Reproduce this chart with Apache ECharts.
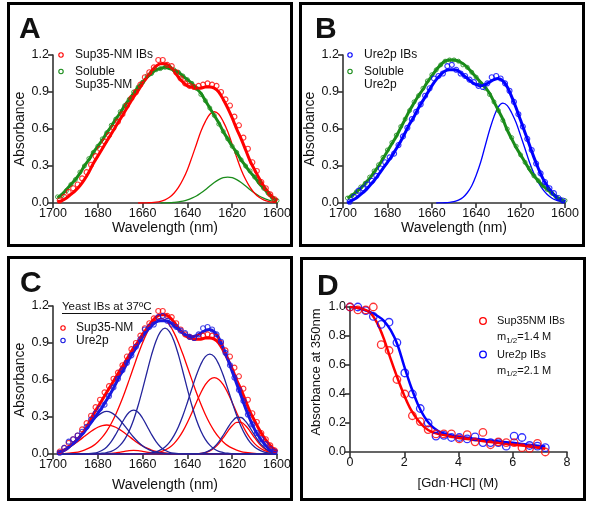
<!DOCTYPE html>
<html><head><meta charset="utf-8">
<script src="https://cdn.jsdelivr.net/npm/echarts@6/dist/echarts.min.js"></script>
<style>html,body{margin:0;padding:0;background:#fff}#c{width:600px;height:505px}</style>
</head><body><div id="c"></div>
<script>
// ---------- DATA ----------
const WL = [1698,1696,1694,1692,1690,1688,1686,1684,1682,1680,
            1678,1676,1674,1672,1670,1668,1666,1664,1662,1660,
            1658,1656,1654,1652,1650,1648,1646,1644,1642,1640,
            1638,1636,1634,1632,1630,1628,1626,1624,1622,1620,
            1618,1616,1614,1612,1610,1608,1606,1604,1602,1600];
const WL_ODD = [1697,1695,1693,1691,1689,1687,1685,1683,1681,1679,
                1677,1675,1673,1671,1669,1667,1665,1663,1661,1659,
                1657,1655,1653,1651,1649,1647,1645,1643,1641,1639,
                1637,1635,1633,1631,1629,1627,1625,1623,1621,1619,
                1617,1615,1613,1611,1609,1607,1605,1603,1601];

// Panel A: Sup35-NM
const aRedFit = [0.01,0.02,0.04,0.07,0.10,0.14,0.19,0.25,0.32,0.38,
 0.44,0.50,0.56,0.62,0.68,0.74,0.80,0.86,0.91,0.97,
 1.02,1.07,1.11,1.13,1.13,1.11,1.07,1.02,0.98,0.95,
 0.94,0.93,0.93,0.94,0.94,0.93,0.90,0.84,0.77,0.69,
 0.60,0.52,0.43,0.34,0.27,0.20,0.14,0.09,0.05,0.02];
const aGreenFit = [0.04,0.07,0.11,0.15,0.19,0.24,0.30,0.35,0.41,0.46,
 0.51,0.57,0.62,0.68,0.73,0.79,0.84,0.89,0.94,0.98,
 1.02,1.05,1.08,1.09,1.10,1.09,1.08,1.06,1.03,1.00,
 0.97,0.93,0.89,0.83,0.77,0.71,0.65,0.58,0.52,0.46,
 0.41,0.35,0.30,0.25,0.21,0.16,0.12,0.08,0.04,0.02];
const aRedComp = [null,null,null,null,null,null,null,null,null,null,
 null,null,null,null,null,null,null,null,0.000,0.000,
 0.0015,0.003,0.007,0.014,0.026,0.046,0.079,0.126,0.19,0.27,
 0.37,0.475,0.58,0.66,0.72,0.74,0.72,0.66,0.58,0.475,
 0.37,0.27,0.19,0.126,0.079,0.046,0.026,0.014,0.007,0.003];
const aGreenComp = [null,null,null,null,null,null,null,null,null,null,
 null,null,null,null,null,null,null,null,null,null,
 null,null,null,0.000,0.001,0.002,0.005,0.009,0.015,0.025,
 0.039,0.057,0.081,0.108,0.138,0.166,0.189,0.205,0.21,0.205,
 0.189,0.166,0.138,0.108,0.081,0.057,0.039,0.025,0.015,0.009];
const aRedPts = [0.02,0.05,0.09,0.12,0.15,0.20,0.25,0.31,0.38,0.44,
 0.50,0.55,0.61,0.66,0.72,0.79,0.85,0.90,0.96,1.02,
 1.06,1.10,1.16,1.16,1.12,1.11,1.06,1.01,0.97,0.95,
 0.94,0.95,0.96,0.97,0.96,0.95,0.90,0.84,0.79,0.70,
 0.63,0.53,0.44,0.33,0.26,0.17,0.12,0.07,0.03];
const aGreenPts = [0.05,0.06,0.10,0.15,0.19,0.25,0.30,0.36,0.41,0.46,
 0.52,0.57,0.63,0.68,0.74,0.79,0.84,0.90,0.94,0.98,
 1.03,1.05,1.08,1.09,1.10,1.10,1.08,1.06,1.03,1.00,
 0.97,0.93,0.88,0.83,0.77,0.71,0.64,0.58,0.52,0.46,
 0.41,0.35,0.30,0.26,0.21,0.17,0.12,0.08,0.04,0.02];

// Panel B: Ure2p
const bBlueFit = [0.00,0.02,0.04,0.07,0.10,0.14,0.18,0.23,0.28,0.33,
 0.38,0.44,0.50,0.57,0.64,0.70,0.77,0.83,0.89,0.95,
 1.00,1.04,1.07,1.08,1.08,1.07,1.04,1.01,0.98,0.96,
 0.95,0.96,0.98,1.00,1.01,0.99,0.94,0.86,0.77,0.67,
 0.57,0.47,0.37,0.28,0.20,0.14,0.09,0.05,0.02,0.01];
const bGreenFit = [0.04,0.06,0.09,0.12,0.16,0.20,0.25,0.30,0.36,0.42,
 0.48,0.54,0.61,0.68,0.75,0.81,0.87,0.92,0.98,1.03,
 1.08,1.12,1.15,1.16,1.16,1.15,1.13,1.10,1.06,1.02,
 0.98,0.94,0.89,0.82,0.75,0.68,0.59,0.52,0.45,0.39,
 0.33,0.27,0.22,0.18,0.14,0.11,0.08,0.05,0.03,0.01];
const bBlueComp = [null,null,null,null,null,null,null,null,null,null,
 null,null,null,null,null,null,null,null,null,null,
 0.000,0.001,0.002,0.005,0.011,0.023,0.045,0.083,0.14,0.225,
 0.33,0.46,0.59,0.70,0.78,0.81,0.79,0.73,0.65,0.546,
 0.44,0.33,0.24,0.167,0.11,0.069,0.041,0.023,0.0125,0.006];
const bBluePts = [0.01,0.05,0.10,0.12,0.15,0.18,0.22,0.28,0.33,0.37,
 0.40,0.47,0.54,0.61,0.68,0.74,0.80,0.87,0.93,1.01,
 1.03,1.05,1.11,1.12,1.08,1.05,1.03,1.00,0.98,0.95,
 0.94,0.97,1.02,1.03,1.01,0.97,0.91,0.82,0.72,0.62,
 0.52,0.43,0.32,0.24,0.17,0.12,0.08,0.04,0.02];
const bGreenPts = [0.04,0.06,0.09,0.13,0.16,0.21,0.26,0.31,0.37,0.43,
 0.49,0.55,0.62,0.68,0.75,0.82,0.87,0.93,0.99,1.04,
 1.08,1.12,1.15,1.16,1.16,1.15,1.12,1.10,1.06,1.02,
 0.97,0.93,0.88,0.82,0.75,0.67,0.60,0.53,0.46,0.39,
 0.33,0.28,0.22,0.18,0.14,0.11,0.08,0.05,0.03,0.02];

// Panel C: deconvolution components
const cRedLow = [0.021,0.032,0.047,0.065,0.088,0.114,0.143,0.171,0.196,0.217,
 0.230,0.235,0.230,0.217,0.196,0.171,0.143,0.114,0.088,0.065,
 0.047,0.032,0.021,0.013,0.008,0.005,0.003,0.001,0,0,
 0,0,0,0,0,0,0,0,0,0,
 0,0,0,0,0,0,0,0,0,0];
const cRedTiny = [0,0,0,0,0,0,0,0,0,0,
 0.001,0.002,0.004,0.008,0.015,0.022,0.028,0.03,0.028,0.022,
 0.015,0.008,0.004,0.002,0.001,0,0,0,0,0,
 0,0,0,0,0,0,0,0,0,0,
 0,0,0,0,0,0,0,0,0,0];
const cRedBig = [0.002,0.003,0.005,0.008,0.013,0.020,0.031,0.047,0.068,0.098,
 0.137,0.186,0.247,0.320,0.405,0.499,0.601,0.705,0.808,0.903,
 0.984,1.047,1.087,1.10,1.087,1.047,0.984,0.903,0.808,0.705,
 0.601,0.499,0.405,0.320,0.247,0.186,0.137,0.098,0.068,0.047,
 0.031,0.020,0.013,0.008,0.005,0.003,0.002,0.001,0.0005,0];
const cRed1628 = [0,0,0,0,0,0,0,0,0,0,
 0,0,0,0,0,0,0,0,0,0.001,
 0.002,0.005,0.010,0.018,0.031,0.052,0.084,0.128,0.185,0.255,
 0.334,0.418,0.497,0.562,0.605,0.62,0.605,0.562,0.497,0.418,
 0.334,0.255,0.185,0.128,0.084,0.052,0.031,0.018,0.010,0.005];
const cRed1617 = [0,0,0,0,0,0,0,0,0,0,
 0,0,0,0,0,0,0,0,0,0,
 0,0,0,0,0,0,0,0,0,0,
 0.001,0.002,0.005,0.011,0.025,0.048,0.084,0.132,0.184,0.229,
 0.256,0.256,0.229,0.184,0.132,0.084,0.048,0.025,0.011,0.005];
const cBlueLow = [0.015,0.026,0.043,0.066,0.097,0.136,0.181,0.228,0.274,0.311,
 0.336,0.345,0.336,0.311,0.274,0.228,0.181,0.136,0.097,0.066,
 0.043,0.026,0.015,0.008,0.004,0.002,0.001,0,0,0,
 0,0,0,0,0,0,0,0,0,0,
 0,0,0,0,0,0,0,0,0,0];
const cBlue1664 = [0,0,0,0,0,0,0.001,0.002,0.006,0.014,
 0.030,0.057,0.100,0.158,0.225,0.290,0.338,0.355,0.338,0.290,
 0.225,0.158,0.100,0.057,0.030,0.014,0.006,0.002,0.001,0,
 0,0,0,0,0,0,0,0,0,0,
 0,0,0,0,0,0,0,0,0,0];
const cBlueBig = [0,0,0,0,0,0,0,0,0.001,0.003,
 0.006,0.012,0.022,0.041,0.072,0.119,0.187,0.278,0.393,0.526,
 0.667,0.804,0.917,0.993,1.02,0.993,0.917,0.804,0.667,0.526,
 0.393,0.278,0.187,0.119,0.072,0.041,0.022,0.012,0.006,0.003,
 0.001,0,0,0,0,0,0,0,0,0];
const cBlue1630 = [0,0,0,0,0,0,0,0,0,0,
 0,0,0,0,0,0,0,0,0.001,0.002,
 0.005,0.009,0.018,0.033,0.057,0.095,0.149,0.221,0.312,0.418,
 0.530,0.638,0.728,0.789,0.81,0.789,0.728,0.638,0.530,0.418,
 0.312,0.221,0.149,0.095,0.057,0.033,0.018,0.009,0.005,0.002];
const cBlue1617 = [0,0,0,0,0,0,0,0,0,0,
 0,0,0,0,0,0,0,0,0,0,
 0,0,0,0,0,0,0,0,0,0,
 0.001,0.002,0.005,0.013,0.029,0.056,0.098,0.152,0.212,0.264,
 0.296,0.296,0.264,0.212,0.152,0.098,0.056,0.029,0.013,0.005];

// Panel D: Gdn·HCl denaturation
const dFitX = [0,0.25,0.5,0.75,1,1.25,1.5,1.75,2,2.25,2.5,2.75,3,3.25,3.5,3.75,4,4.5,5,5.5,6,6.5,7,7.2];
const dRedFit = [1.00,0.995,0.985,0.96,0.89,0.78,0.64,0.51,0.39,0.29,0.22,0.17,0.14,0.125,0.115,0.105,0.097,0.085,0.073,0.062,0.052,0.040,0.028,0.022];
const dBlueFit = [1.00,0.995,0.98,0.965,0.94,0.905,0.84,0.74,0.59,0.45,0.33,0.24,0.18,0.145,0.125,0.113,0.105,0.094,0.083,0.073,0.063,0.052,0.042,0.038];
const dPtX = [0,0.29,0.58,0.86,1.15,1.44,1.73,2.02,2.3,2.59,2.88,3.17,3.46,3.74,4.03,4.32,4.61,4.9,5.18,5.47,5.76,6.05,6.34,6.62,6.91,7.2];
const dRedPts = [1.0,0.98,0.98,1.0,0.74,0.70,0.50,0.40,0.25,0.21,0.155,0.125,0.125,0.125,0.09,0.12,0.07,0.135,0.05,0.07,0.065,0.065,0.03,0.025,0.06,0.0];
const dBluePts = [1.0,1.0,0.975,0.935,0.88,0.895,0.755,0.545,0.40,0.30,0.20,0.11,0.115,0.10,0.10,0.09,0.105,0.065,0.065,0.065,0.04,0.11,0.10,0.045,0.04,0.03];

// ---------- STYLE / LAYOUT ----------
const FONT = '"Liberation Sans", Arial, Helvetica, sans-serif';
const RED = '#ff0000', GREEN = '#1a8c1a', BLUE = '#0000ff', NAVY = '#24249c', BLUEC = '#1818e0';
const AX = '#333333', TXT = '#111';
const TICKFS = 12.5, TITLEFS = 14, LEGFS = 12;

function pairs(xs, ys){ const o=[]; for(let i=0;i<xs.length;i++){ if(ys[i]!==null && ys[i]!==undefined) o.push([xs[i], ys[i]]); } return o; }
function lineS(gi, xs, ys, color, width){
  return {type:'line', xAxisIndex:gi, yAxisIndex:gi, data:pairs(xs,ys), showSymbol:false, symbol:'none',
    smooth:0.35, lineStyle:{color:color, width:width}, itemStyle:{color:color}, z:2, silent:true, animation:false};
}
function scat(gi, xs, ys, color, size, bw){
  return {type:'scatter', xAxisIndex:gi, yAxisIndex:gi, data:pairs(xs,ys), symbol:'circle', symbolSize:size,
    itemStyle:{color:'rgba(255,255,255,0)', borderColor:color, borderWidth:bw}, z:3, silent:true, animation:false};
}
const axLine = {show:true, onZero:false, lineStyle:{color:AX, width:1.6}};
const axTick = {show:true, length:5, inside:false, lineStyle:{color:AX, width:1.6}};
function xWL(gi){ return {type:'value', gridIndex:gi, min:1600, max:1700, interval:20, inverse:true,
  axisLine:axLine, axisTick:axTick, splitLine:{show:false},
  axisLabel:{margin:4, fontSize:TICKFS, color:TXT, fontFamily:FONT, formatter:v=>String(v)}}; }
function yAbs(gi){ return {type:'value', gridIndex:gi, min:0, max:1.2, interval:0.3,
  axisLine:axLine, axisTick:axTick, splitLine:{show:false},
  axisLabel:{margin:4, fontSize:TICKFS, color:TXT, fontFamily:FONT, formatter:v=>v.toFixed(1)}}; }

const mctx = document.createElement('canvas').getContext('2d');
function tw(s, size){ mctx.font = size + 'px ' + FONT; return mctx.measureText(s).width; }

function T(x, y, s, size, opt){ opt = opt || {};
  return {type:'text', x:x, y:y, rotation: opt.rot || 0, z:50,
    style:{text:s, fontSize:size, fontFamily:FONT, fontWeight: opt.bold ? 'bold' : 'normal', fill: opt.fill || TXT,
      align: opt.align || 'left', verticalAlign:'middle'}}; }
function C(cx, cy, r, color, lw){ return {type:'circle', z:50, shape:{cx:cx, cy:cy, r:r}, style:{fill:'none', stroke:color, lineWidth:lw}}; }
function R(x, y, w, h){ return {type:'rect', z:60, shape:{x:x, y:y, width:w, height:h}, style:{fill:'none', stroke:'#000', lineWidth:3}}; }
function mSub(x, y, val){
  const s1 = 11, s2 = 8;
  const w1 = tw('m', s1), w2 = tw('1/2', s2);
  return [T(x, y, 'm', s1), T(x + w1, y + 3.5, '1/2', s2), T(x + w1 + w2, y, '=' + val + ' M', s1)];
}

const yeast = 'Yeast IBs at 37ºC';
const yeastW = tw(yeast, 11.5);

const graphic = [
  R(8.5, 3.5, 283, 242), R(300.5, 3.5, 283, 242), R(8.5, 257.5, 283, 242), R(301.5, 258.5, 283, 241),
  T(19, 30, 'A', 30, {bold:true}), T(315, 30, 'B', 30, {bold:true}),
  T(20, 284, 'C', 30, {bold:true}), T(317, 287, 'D', 30, {bold:true}),
  // axis titles
  T(20, 129, 'Absorbance', TITLEFS, {rot:Math.PI/2, align:'center'}),
  T(165, 228, 'Wavelength (nm)', TITLEFS, {align:'center'}),
  T(310, 129, 'Absorbance', TITLEFS, {rot:Math.PI/2, align:'center'}),
  T(454, 228, 'Wavelength (nm)', TITLEFS, {align:'center'}),
  T(20, 380, 'Absorbance', TITLEFS, {rot:Math.PI/2, align:'center'}),
  T(165, 485, 'Wavelength (nm)', TITLEFS, {align:'center'}),
  T(316, 372, 'Absorbance at 350nm', 13, {rot:Math.PI/2, align:'center'}),
  T(458, 483, '[Gdn·HCl] (M)', 13, {align:'center'}),
  // legend A
  C(61, 55, 2.2, RED, 1.1), T(75, 55, 'Sup35-NM IBs', LEGFS),
  C(61, 71.5, 2.2, GREEN, 1.1), T(75, 71.5, 'Soluble', LEGFS), T(75, 85, 'Sup35-NM', LEGFS),
  // legend B
  C(350, 55, 2.2, BLUE, 1.1), T(364, 55, 'Ure2p IBs', LEGFS),
  C(350, 71.5, 2.2, GREEN, 1.1), T(364, 71.5, 'Soluble', LEGFS), T(364, 85, 'Ure2p', LEGFS),
  // legend C
  T(62, 307, yeast, 11.5),
  {type:'line', z:50, shape:{x1:62, y1:313.5, x2:62 + yeastW, y2:313.5}, style:{stroke:TXT, lineWidth:1}},
  C(63, 328, 2.2, RED, 1.1), T(76, 328, 'Sup35-NM', LEGFS),
  C(63, 340.5, 2.2, BLUEC, 1.1), T(76, 340.5, 'Ure2p', LEGFS),
  // legend D
  C(483, 321, 3.3, RED, 1.3), T(497, 321, 'Sup35NM IBs', 11),
  ...mSub(497, 337, '1.4'),
  C(483, 354.5, 3.3, BLUE, 1.3), T(497, 354.5, 'Ure2p IBs', 11),
  ...mSub(497, 370.5, '2.1')
];

const option = {
  animation:false,
  backgroundColor:'#fff',
  textStyle:{fontFamily:FONT},
  grid:[
    {left:53, top:55, width:224, height:148, containLabel:false, outerBoundsMode:'none'},
    {left:343, top:55, width:222, height:148, containLabel:false, outerBoundsMode:'none'},
    {left:53, top:306, width:224, height:148, containLabel:false, outerBoundsMode:'none'},
    {left:350, top:307, width:217, height:145, containLabel:false, outerBoundsMode:'none'}
  ],
  xAxis:[ xWL(0), xWL(1), xWL(2),
    {type:'value', gridIndex:3, min:0, max:8, interval:2, axisLine:axLine, axisTick:axTick, splitLine:{show:false},
     axisLabel:{margin:4, fontSize:TICKFS, color:TXT, fontFamily:FONT}} ],
  yAxis:[ yAbs(0), yAbs(1), yAbs(2),
    {type:'value', gridIndex:3, min:0, max:1, interval:0.2, axisLine:axLine, axisTick:axTick, splitLine:{show:false},
     axisLabel:{margin:4, fontSize:TICKFS, color:TXT, fontFamily:FONT, formatter:v=>v.toFixed(1)}} ],
  series:[
    // A
    lineS(0, WL, aGreenComp, GREEN, 1.3),
    lineS(0, WL, aRedComp, RED, 1.3),
    lineS(0, WL, aGreenFit, GREEN, 3),
    lineS(0, WL, aRedFit, RED, 3),
    scat(0, WL, aGreenPts, GREEN, 4, 1),
    scat(0, WL_ODD, aRedPts, RED, 5, 1.1),
    // B
    lineS(1, WL, bBlueComp, BLUE, 1.3),
    lineS(1, WL, bGreenFit, GREEN, 3),
    lineS(1, WL, bBlueFit, BLUE, 3),
    scat(1, WL, bGreenPts, GREEN, 4, 1),
    scat(1, WL_ODD, bBluePts, BLUE, 5, 1.1),
    // C
    lineS(2, WL, cRedLow, RED, 1.3),
    lineS(2, WL, cRedTiny, RED, 1.3),
    lineS(2, WL, cRedBig, RED, 1.3),
    lineS(2, WL, cRed1628, RED, 1.3),
    lineS(2, WL, cRed1617, RED, 1.3),
    lineS(2, WL, cBlueLow, NAVY, 1.3),
    lineS(2, WL, cBlue1664, NAVY, 1.3),
    lineS(2, WL, cBlueBig, NAVY, 1.3),
    lineS(2, WL, cBlue1630, NAVY, 1.3),
    lineS(2, WL, cBlue1617, NAVY, 1.3),
    lineS(2, WL, aRedFit, RED, 3),
    lineS(2, WL, bBlueFit, BLUEC, 3),
    scat(2, WL_ODD, aRedPts, RED, 5, 1.1),
    scat(2, WL_ODD, bBluePts, BLUEC, 5, 1.1),
    // D
    lineS(3, dFitX, dBlueFit, BLUE, 2.5),
    lineS(3, dFitX, dRedFit, RED, 2.5),
    scat(3, dPtX, dBluePts, BLUE, 7.5, 1.3),
    scat(3, dPtX, dRedPts, RED, 7.5, 1.3)
  ],
  graphic: graphic
};

const chart = echarts.init(document.getElementById('c'), null, {renderer:'canvas', width:600, height:505});
chart.setOption(option);
</script>
</body></html>
